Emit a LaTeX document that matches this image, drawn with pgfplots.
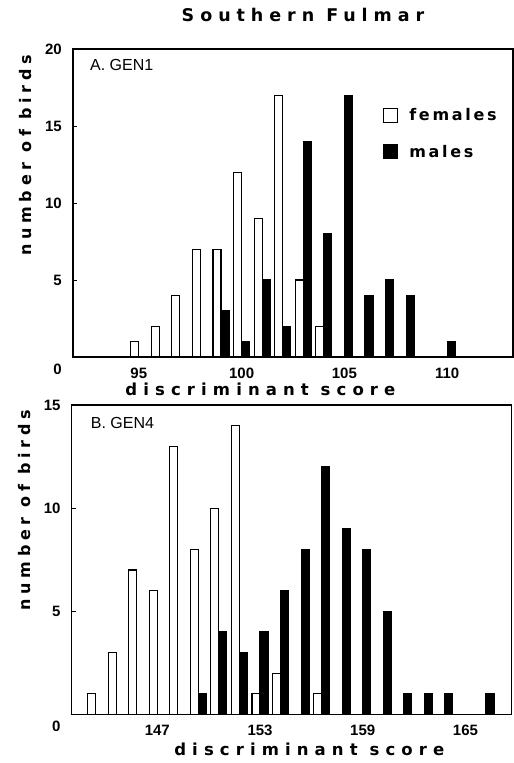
\documentclass[border=0pt]{standalone}
\usepackage{pgfplots}
\pgfplotsset{compat=1.18}
\usepackage{fontspec}
\setmainfont{Liberation Sans}
\newfontfamily\titlefont[LetterSpace=34]{DejaVu Sans Bold}
\newfontfamily\labfont[LetterSpace=37]{DejaVu Sans Bold}
\newfontfamily\ylabfont[LetterSpace=29]{DejaVu Sans Bold}
\newfontfamily\legfont[LetterSpace=17]{DejaVu Sans Bold}

\pgfplotsset{
  panel/.style={
    scale only axis, width=440bp,
    ymin=0,
    axis line style={line width=1.3bp},
    ytick pos=left, tick align=inside,
    major tick length=4bp,
    xtick style={draw=none},
    every tick/.style={line width=1bp, black},
    /pgf/number format/assume math mode=true,
    ticklabel style={font=\fontsize{15bp}{18bp}\selectfont\bfseries},
    yticklabel style={inner sep=0pt, xshift=-11bp},
    xticklabel style={inner sep=0pt, yshift=-11bp},
    extra y ticks={0},
    extra y tick style={major tick length=0pt, yticklabel style={yshift=-12bp}},
    xlabel={discriminant score},
    ylabel={number of birds},
  },
  fem/.style={ybar, fill=white, draw=black, line width=1.1bp,
    legend image code/.code={\draw[fill=white, draw=black, line width=1.1bp] (0bp,-7bp) rectangle (14bp,7bp);}},
  mal/.style={ybar, fill=black, draw=black, line width=1.1bp,
    legend image code/.code={\draw[fill=black, draw=black, line width=1.1bp] (0bp,-7bp) rectangle (14bp,7bp);}},
}

\begin{document}
\begin{tikzpicture}
\path[use as bounding box] (0,0) rectangle (514bp,-763bp);

\node[anchor=base, font=\titlefont\fontsize{17.5bp}{20bp}\selectfont] at (303bp,-21.7bp) {Southern Fulmar};

% A. GEN1
\begin{axis}[panel,
  at={(73bp,-49bp)}, anchor=north west,
  height=308bp,
  xmin=91.8, xmax=113.2, ymax=20,
  xtick={95,100,105,110},
  ytick={5,10,15,20},
  every axis x label/.style={at={(axis description cs:0.426,-0.1234)}, anchor=base,
    font=\labfont\fontsize{16.5bp}{20bp}\selectfont},
  every axis y label/.style={at={(axis description cs:-0.0939,0.655)}, rotate=90, anchor=base,
    font=\ylabfont\fontsize{16bp}{20bp}\selectfont},
  legend style={draw=none, fill=none, at={(0.7045,0.809)}, anchor=north west,
    inner sep=0pt, nodes={inner sep=0pt}, row sep=21bp, column sep=11bp,
    font=\legfont\fontsize{16bp}{20bp}\selectfont},
  legend cell align=left,
]
\addplot[fem, bar width=0.39, bar shift=-0.195] coordinates {
  (95,1) (96,2) (97,4) (98,7) (99,7) (100,12) (101,9) (102,17) (103,5) (104,2)
};
\addlegendentry{females}
\addplot[mal, bar width=0.39, bar shift=0.195] coordinates {
  (99,3) (100,1) (101,5) (102,2) (103,14) (104,8) (105,17) (106,4) (107,5) (108,4) (110,1)
};
\addlegendentry{males}
\node[anchor=north west, inner sep=0pt, font=\fontsize{16bp}{19bp}\selectfont] at (rel axis cs:0.0386,0.9666) {A. GEN1};
\end{axis}

% B. GEN4
\begin{axis}[panel,
  at={(71.7bp,-405bp)}, anchor=north west,
  height=309.3bp,
  xmin=142.0, xmax=167.7, ymax=15,
  xtick={147,153,159,165},
  ytick={5,10,15},
  every axis x label/.style={at={(axis description cs:0.54,-0.1316)}, anchor=base,
    font=\labfont\fontsize{16.5bp}{20bp}\selectfont},
  every axis y label/.style={at={(axis description cs:-0.0939,0.66)}, rotate=90, anchor=base,
    font=\ylabfont\fontsize{16bp}{20bp}\selectfont},
]
\addplot[fem, bar width=0.467, bar shift=-0.2335] coordinates {
  (143.4,1) (144.6,3) (145.8,7) (147.0,6) (148.2,13) (149.4,8) (150.6,10)
  (151.8,14) (153.0,1) (154.2,2) (156.6,1)
};
\addplot[mal, bar width=0.467, bar shift=0.2335] coordinates {
  (149.4,1) (150.6,4) (151.8,3) (153.0,4) (154.2,6) (155.4,8) (156.6,12)
  (157.8,9) (159.0,8) (160.2,5) (161.4,1) (162.6,1) (163.8,1) (166.2,1)
};
\node[anchor=north west, inner sep=0pt, font=\fontsize{16bp}{19bp}\selectfont] at (rel axis cs:0.0432,0.962) {B. GEN4};
\end{axis}
\end{tikzpicture}
\end{document}
